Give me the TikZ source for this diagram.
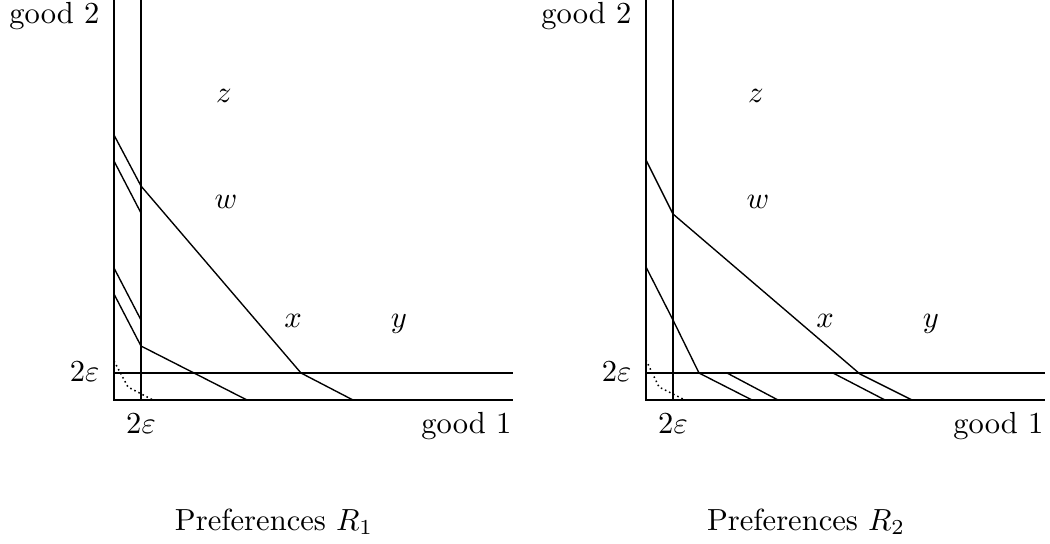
\documentclass[tikz,border=0pt]{standalone}
\usepackage{tikz}
\usepackage{amsmath}

\begin{document}
\begin{tikzpicture}[x=0.0115cm, y=0.0115cm,
  axis/.style={line width=0.8pt},
  indiff/.style={line width=0.45pt},
  lower/.style={line width=0.5pt, densely dotted},
  lab/.style={inner sep=0pt},
  pt/.style={anchor=base, inner sep=0pt}]

\useasboundingbox (-114,-143) rectangle (936,400);

%% ===================== frame of both panels =====================
\foreach \s/\r in {0/1, 532/2}{
  \begin{scope}[shift={(\s,0)}]
    \draw[axis] (0,400) -- (0,0) -- (399,0);
    \draw[axis] (27,400) -- (27,0);
    \draw[axis] (0,27) -- (399,27);
    \node[lab, anchor=base east] (gtwo\r) at (-14,377) {good 2};
    \node[lab, anchor=east] (epsy\r) at (-14,28) {$2\varepsilon$};
    \node[pt] (epsx\r) at (27,-33) {$2\varepsilon$};
    \node[lab, anchor=base east] (gone\r) at (398,-33) {good 1};
    \node[pt] (z\r) at (110,298) {$z$};
    \node[pt] (w\r) at (112,192) {$w$};
    \node[pt] (x\r) at (179,73) {$x$};
    \node[pt] (y\r) at (285,73) {$y$};
    \node[pt] (pref\r) at (160,-130) {Preferences $R_{\r}$};
  \end{scope}
}

%% ===================== preferences R_1 =====================
\draw[indiff] (0,265) -- (27,214) -- (187,27) -- (239,0);
\draw[indiff] (0,239) -- (27,187);
\draw[indiff] (0,132) -- (27,80);
\draw[indiff] (0,106) -- (27,54) -- (133,0);
\draw[lower] (0,39) -- (14,13) -- (39,0);

%% ===================== preferences R_2 =====================
\begin{scope}[shift={(532,0)}]
  \draw[indiff] (0,240) -- (27,186) -- (214,26) -- (266,0);
  \draw[indiff] (187,27) -- (239,0);
  \draw[indiff] (0,133) -- (27,80) -- (53,27) -- (106,0);
  \draw[indiff] (81,27) -- (132,0);
  \draw[lower] (0,40) -- (13,13) -- (39,0);
\end{scope}

\end{tikzpicture}
\end{document}
